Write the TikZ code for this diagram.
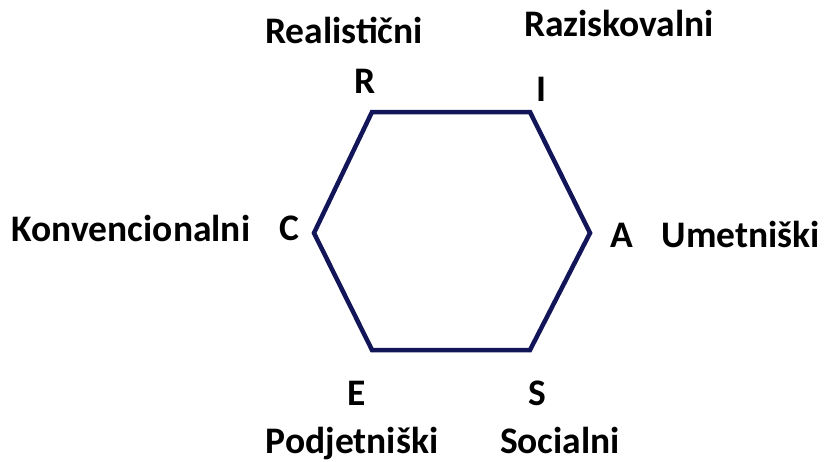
\documentclass[tikz,border=0pt]{standalone}
\usepackage{fontspec}
\setmainfont{Carlito}
\definecolor{hexblue}{RGB}{18,22,88}
\begin{document}
\begin{tikzpicture}[x=1pt,y=-1pt,
  lbl/.style={inner sep=0pt,anchor=base,font=\fontsize{37.5}{42}\selectfont\bfseries,text=black},
  hexline/.style={draw=hexblue,line width=4.5pt,line join=miter}]
\useasboundingbox (0,0) rectangle (824,461);
\coordinate (vR) at (372,112);
\coordinate (vI) at (530,112);
\coordinate (vA) at (590,233);
\coordinate (vS) at (530,350);
\coordinate (vE) at (372,350);
\coordinate (vC) at (314,233);
\draw[hexline] (vR) -- (vI) -- (vA) -- (vS) -- (vE) -- (vC) -- cycle;
\node[lbl] (tReal) at (344,43) {Realistični};
\node[lbl] (tRaz) at (619,36) {Raziskovalni};
\node[lbl] (lR) at (365,93) {R};
\node[lbl] (lI) at (541,101) {I};
\node[lbl] (tKon) at (131,241) {Konvencionalni};
\node[lbl] (lC) at (289,240) {C};
\node[lbl] (lA) at (622,247) {A};
\node[lbl] (tUm) at (741,247) {Umetniški};
\node[lbl] (lE) at (357,405) {E};
\node[lbl] (lS) at (537,405) {S};
\node[lbl] (tPod) at (352,453) {Podjetniški};
\node[lbl] (tSoc) at (560,453) {Socialni};
\end{tikzpicture}
\end{document}
